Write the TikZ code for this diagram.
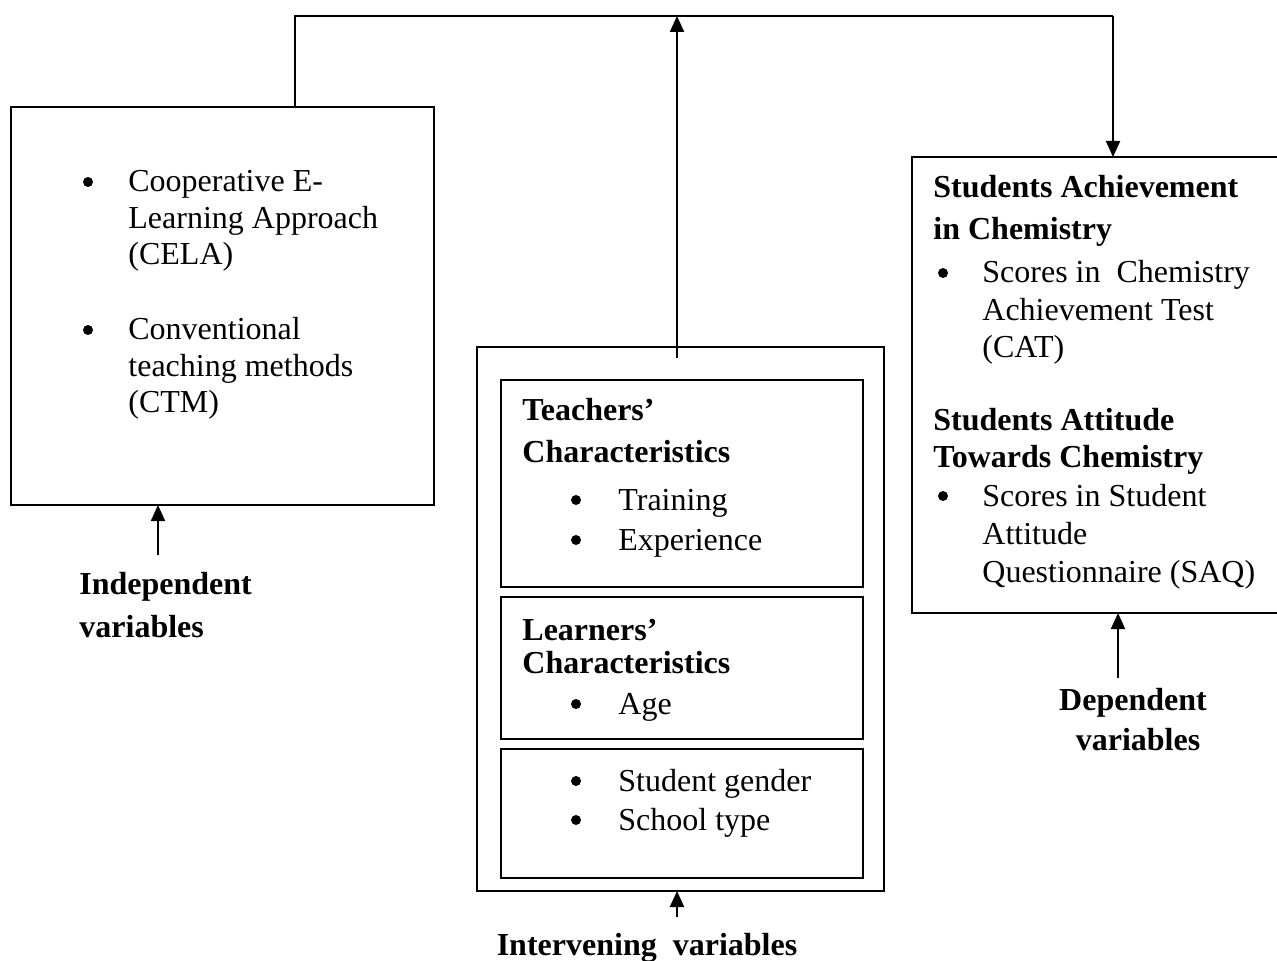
\documentclass[tikz,border=0pt]{standalone}
\usepackage{fontspec}
\setmainfont{Liberation Serif}
\usetikzlibrary{arrows.meta}
\begin{document}
\begin{tikzpicture}[x=0.5pt,y=-0.5pt,
  txt/.style={inner sep=0pt,anchor=base west,font=\fontsize{16}{18.5}\selectfont},
  btxt/.style={inner sep=0pt,anchor=base west,font=\fontsize{16}{18.5}\selectfont\bfseries},
  bctr/.style={inner sep=0pt,anchor=base,font=\fontsize{16}{18.5}\selectfont\bfseries},
  bul/.style={circle,fill,inner sep=0pt,minimum size=5pt,yshift=5pt},
  box/.style={draw,line width=1pt,inner sep=0pt,outer sep=0pt,anchor=north west},
  conn/.style={line width=1pt},
  arr/.style={line width=1pt,-{Triangle[length=8pt,width=7pt]}}]
\useasboundingbox (0,0) rectangle (1277,961);

% boxes
\node[box,minimum width=211.5pt,minimum height=199pt] (lbox) at (11,107) {};
\node[box,minimum width=203.5pt,minimum height=272pt] (ibox) at (477,347) {};
\node[box,minimum width=181pt,minimum height=103.5pt] (t1) at (501,380) {};
\node[box,minimum width=181pt,minimum height=71pt] (t2) at (501,597) {};
\node[box,minimum width=181pt,minimum height=64.5pt] (t3) at (501,749) {};
\node[inner sep=0pt,outer sep=0pt,anchor=north west,minimum width=182.5pt,minimum height=228pt] (rbox) at (912,157) {};
\draw[conn] (rbox.north east) -- (rbox.north west) -- (rbox.south west) -- (rbox.south east);

% top connectors
\coordinate (tl) at (295,16);
\coordinate (tm) at (677,16);
\coordinate (tr) at (1113,16);
\draw[conn] (tl |- lbox.north) -- (tl) -- (tr);
\draw[arr] (tr) -- (tr |- rbox.north);
\coordinate (ms) at (677,358);
\draw[arr] (ms) -- (tm);

% bottom arrows
\coordinate (la) at (158,555);
\draw[arr] (la) -- (la |- lbox.south);
\coordinate (ra) at (1118,678);
\draw[arr] (ra) -- (ra |- rbox.south);
\coordinate (ia) at (677,917);
\draw[arr] (ia) -- (ia |- ibox.south);

% left box text
\node[bul] (b1) at (88,192) {};
\node[txt] (l1) at (128,192) {Cooperative E-};
\node[txt] (l2) at (128,229) {Learning Approach};
\node[txt] (l3) at (128,265) {(CELA)};
\node[bul] (b2) at (88,340) {};
\node[txt] (l4) at (128,340) {Conventional};
\node[txt] (l5) at (128,377) {teaching methods};
\node[txt] (l6) at (128,413) {(CTM)};
\node[btxt] (ind1) at (79,594) {Independent};
\node[btxt] (ind2) at (79,637) {variables};

% intervening
\node[btxt] (t1a) at (522,421) {Teachers’};
\node[btxt] (t1b) at (522,463) {Characteristics};
\node[bul] (b3) at (576,510) {};
\node[txt] (t1c) at (618,510) {Training};
\node[bul] (b4) at (576,550) {};
\node[txt] (t1d) at (618,550) {Experience};
\node[btxt] (t2a) at (522,640) {Learners’};
\node[btxt] (t2b) at (522,673) {Characteristics};
\node[bul] (b5) at (576,714) {};
\node[txt] (t2c) at (618,714) {Age};
\node[bul] (b6) at (576,791) {};
\node[txt] (t3a) at (618,791) {Student gender};
\node[bul] (b7) at (576,830) {};
\node[txt] (t3b) at (618,830) {School type};
\node[bctr] (int) at (647,955) {Intervening\ \ variables};

% right box
\node[btxt] (r1) at (933,198) {Students Achievement};
\node[btxt] (r2) at (933,240) {in Chemistry};
\node[bul] (b8) at (943,283) {};
\node[txt] (r3) at (982,283) {Scores in\ \ Chemistry};
\node[txt] (r4) at (982,321) {Achievement Test};
\node[txt] (r5) at (982,358) {(CAT)};
\node[btxt] (r6) at (933,431) {Students Attitude};
\node[btxt] (r7) at (933,467) {Towards Chemistry};
\node[bul] (b9) at (943,506) {};
\node[txt] (r8) at (982,506) {Scores in Student};
\node[txt] (r9) at (982,544) {Attitude};
\node[txt] (r10) at (982,582) {Questionnaire (SAQ)};
\node[bctr] (dep1) at (1133,710) {Dependent};
\node[bctr] (dep2) at (1138,750) {variables};
\end{tikzpicture}
\end{document}
